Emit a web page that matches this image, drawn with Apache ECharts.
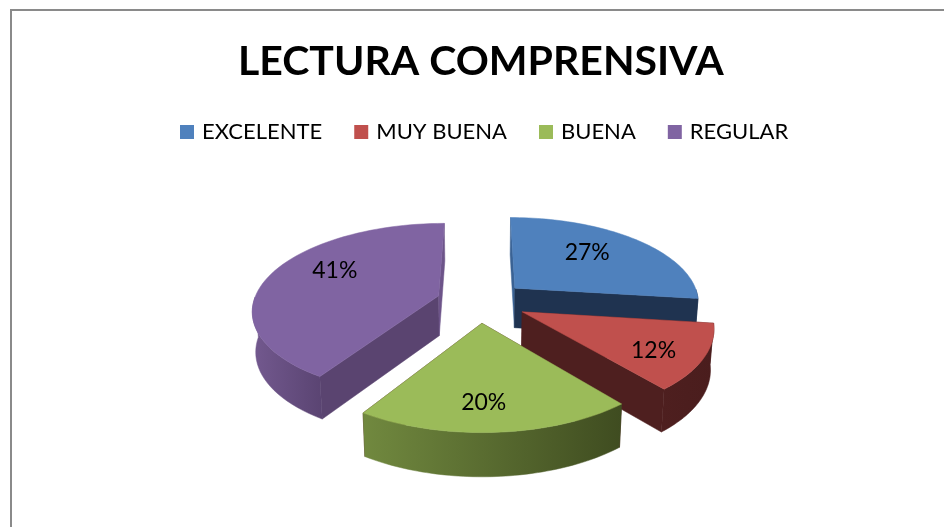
<!DOCTYPE html>
<html>
<head>
<meta charset="utf-8">
<title>LECTURA COMPRENSIVA</title>
<script src="https://cdn.jsdelivr.net/npm/echarts@6/dist/echarts.min.js"></script>
<style>
html, body { margin: 0; padding: 0; background: #fff; }
#main { width: 944px; height: 527px; }
</style>
</head>
<body>
<div id="main"></div>
<script>
// values as printed on the slices
var categories = ['EXCELENTE', 'MUY BUENA', 'BUENA', 'REGULAR'];
var percents = [27, 12, 20, 41];
var chartTitle = 'LECTURA COMPRENSIVA';

var topColors = ['#4f81bd', '#c0504d', '#9bbb59', '#8064a2'];
var startCutColors = ['#3a6294', '#4e1f1f', '#4e1f1f', '#5a4470'];
var endCutColors = ['#1f3350', '#4e1f1f', '#4e1f1f', '#6d5489'];
var wallStops = [
    ['#1f3350', '#1f3350'],
    ['#4e1f1f', '#4a1d1d'],
    ['#71893f', '#3f4c20'],
    ['#73598f', '#5a4472']
];
// draw order, back to front
var paintOrder = [0, 3, 1, 2];
// label place on the slice: distance from the tip, angle shift in degrees
var labelRadius = [0.64, 0.76, 0.76, 0.68];
var labelShift = [-5, 4, 3, 11];
// small sideways correction of the exploded tips
var tipNudge = [0, 0, -0.014, 0];

// projection of the tilted disc
var cx = 481.7, cy = 301.6, radiusX = 185, radiusY = 85.2, persp = 0.153, explode = 0.245;
var wallA = 22, wallB = 18, wallShrink = 0.985;

var total = percents.reduce(function (a, b) { return a + b; }, 0);

function project(u, v) {
    var d = 1 - persp * v;
    return [cx + radiusX * u / d, cy + radiusY * v / d];
}
function lower(u, v) {
    var d = 1 - persp * v;
    var p = project(u, v);
    return [cx + (p[0] - cx) * wallShrink, p[1] + wallA + wallB / d];
}
function sliceAngles(index) {
    var before = 0;
    for (var i = 0; i < index; i++) before += percents[i];
    return [before / total * 360, (before + percents[index]) / total * 360];
}
function polar(deg, r) {
    var a = deg * Math.PI / 180;
    return [r * Math.sin(a), -r * Math.cos(a)];
}
function poly(points, fill) {
    return { type: 'polygon', shape: { points: points }, style: { fill: fill, stroke: fill, lineWidth: 0.5 } };
}

function renderSlice(index) {
    var ang = sliceAngles(index);
    var mid = (ang[0] + ang[1]) / 2;
    var tip = polar(mid, explode);
    tip[0] += tipNudge[index];
    var children = [];

    function at(deg) {
        var p = polar(deg, 1);
        return [tip[0] + p[0], tip[1] + p[1]];
    }
    var topPts = [project(tip[0], tip[1])];
    var wallTop = [], wallLow = [];
    for (var deg = ang[0]; deg <= ang[1] + 0.001; deg += (ang[1] - ang[0]) / 60) {
        var q = at(deg);
        topPts.push(project(q[0], q[1]));
        if (deg > 90 && deg < 270) {
            wallTop.push(project(q[0], q[1]));
            wallLow.unshift(lower(q[0], q[1]));
        }
    }
    var s = at(ang[0]), e = at(ang[1]);
    children.push(poly([project(tip[0], tip[1]), project(s[0], s[1]), lower(s[0], s[1]), lower(tip[0], tip[1])], startCutColors[index]));
    children.push(poly([project(tip[0], tip[1]), project(e[0], e[1]), lower(e[0], e[1]), lower(tip[0], tip[1])], endCutColors[index]));
    if (wallTop.length > 1) {
        children.push(poly(wallTop.concat(wallLow), new echarts.graphic.LinearGradient(0, 0, 1, 0, [
            { offset: 0, color: wallStops[index][0] },
            { offset: 1, color: wallStops[index][1] }
        ])));
    }
    children.push(poly(topPts, topColors[index]));

    var lab = polar(mid + labelShift[index], labelRadius[index]);
    var labPos = project(tip[0] + lab[0], tip[1] + lab[1]);
    children.push({
        type: 'text',
        style: {
            x: labPos[0], y: labPos[1], text: percents[index] + '%',
            fill: '#000', font: '23px Lato, "Noto Sans", sans-serif',
            align: 'center', verticalAlign: 'middle'
        }
    });
    return { type: 'group', children: children };
}

var series = categories.map(function (name, i) {
    return {
        name: name,
        type: 'custom',
        coordinateSystem: 'none',
        z: 2 + paintOrder.indexOf(i),
        itemStyle: { color: topColors[i] },
        data: [percents[i]],
        renderItem: function () { return renderSlice(i); }
    };
});

var chart = echarts.init(document.getElementById('main'), null, { renderer: 'canvas' });
chart.setOption({
    animation: false,
    backgroundColor: '#ffffff',
    color: topColors,
    title: {
        text: chartTitle,
        left: 238,
        top: 41,
        padding: 0,
        textStyle: { fontFamily: 'Lato', fontWeight: 'bold', fontSize: 41, color: '#000' }
    },
    legend: {
        data: categories,
        left: 180,
        top: 121,
        padding: 0,
        icon: 'rect',
        itemWidth: 14,
        itemHeight: 14,
        itemGap: 32,
        selectedMode: false,
        textStyle: { fontFamily: 'Lato', fontSize: 22, color: '#000', padding: [0, 0, 0, 3] }
    },
    graphic: [{
        type: 'rect',
        silent: true,
        shape: { x: 11, y: 10, width: 1000, height: 600 },
        style: { fill: 'none', stroke: '#8a8a8a', lineWidth: 2 }
    }],
    series: series
});
</script>
</body>
</html>
